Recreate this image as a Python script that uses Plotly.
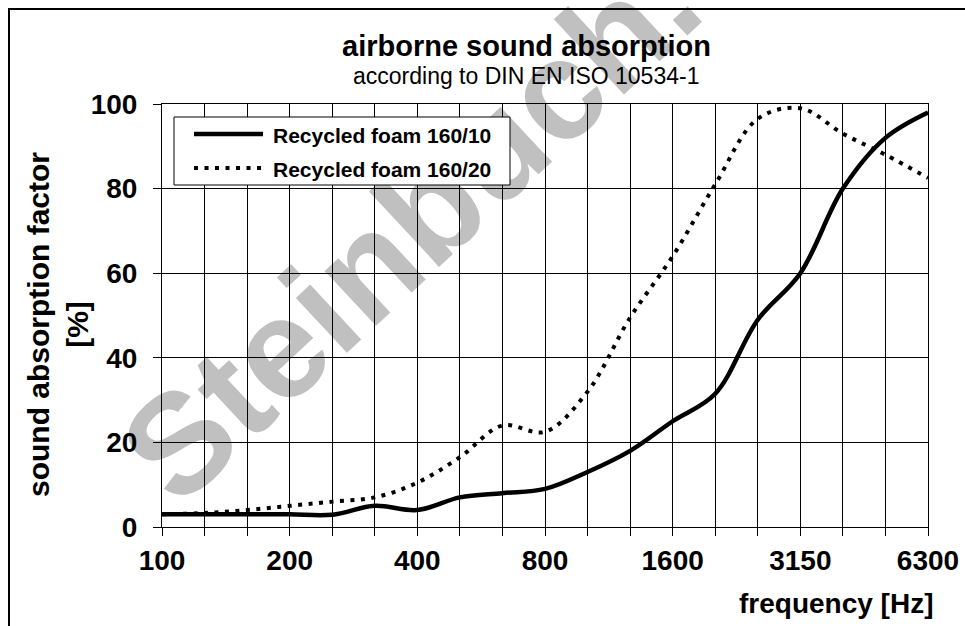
import plotly.graph_objects as go

# ---- data ----
freq_labels = ["100", "125", "160", "200", "250", "315", "400", "500", "630", "800",
               "1000", "1250", "1600", "2000", "2500", "3150", "4000", "5000", "6300"]
foam_160_10 = [3, 3, 3, 3, 2.9, 5, 4, 7, 8, 9, 13, 18, 25, 31.5, 49, 60, 80, 92, 98]
foam_160_20 = [3, 3.3, 4, 5, 6, 7, 10.5, 16.5, 24, 22.5, 32, 49.5, 64, 81, 96.5, 99, 93, 88, 82.5]
labelled_freqs = ["100", "200", "400", "800", "1600", "3150", "6300"]
y_ticks = [0, 20, 40, 60, 80, 100]

series_names = ["Recycled foam 160/10", "Recycled foam 160/20"]

# ---- layout geometry ----
W, H = 965, 626
L, R, T, B = 162, 37, 104, 99
PW, PH = W - L - R, H - T - B
FONT = "Arial, Liberation Sans, sans-serif"
DOT = "4px,6.5px"


def px(x):
    return (x - L) / PW


def py(y):
    return (H - B - y) / PH


fig = go.Figure()
fig.add_trace(go.Scatter(x=freq_labels, y=foam_160_10, mode="lines", name=series_names[0],
                         line=dict(color="black", width=4.5, shape="spline")))
fig.add_trace(go.Scatter(x=freq_labels, y=foam_160_20, mode="lines", name=series_names[1],
                         line=dict(color="black", width=4, shape="spline", dash=DOT)))

fig.update_layout(
    width=W, height=H,
    margin=dict(l=L, r=R, t=T, b=B, autoexpand=False),
    paper_bgcolor="white", plot_bgcolor="white",
    showlegend=False,
    font=dict(family=FONT, color="black"),
)

fig.update_xaxes(
    type="category", categoryorder="array", categoryarray=freq_labels,
    range=[0, len(freq_labels) - 1],
    tickmode="array", tickvals=freq_labels,
    ticktext=[f if f in labelled_freqs else "" for f in freq_labels],
    ticks="outside", ticklen=8, tickcolor="black", tickwidth=1,
    showgrid=True, gridcolor="black", gridwidth=1,
    showline=True, linecolor="black", linewidth=1, mirror=True,
    tickfont=dict(size=28, weight="bold", family=FONT, color="black"),
    ticklabelstandoff=0, automargin=False,
)
fig.update_yaxes(
    range=[0, 100], tickmode="array", tickvals=y_ticks,
    ticks="outside", ticklen=8, tickcolor="black", tickwidth=1,
    showgrid=True, gridcolor="black", gridwidth=1, zeroline=False,
    showline=True, linecolor="black", linewidth=1, mirror=True,
    tickfont=dict(size=28, weight="bold", family=FONT, color="black"),
    ticklabelstandoff=10, automargin=False,
)

WM_X, WM_Y = 401, 217
shapes = [
    # watermark, drawn beneath grid and curves
    dict(type="rect", xref="paper", yref="paper",
         x0=px(WM_X - 5), x1=px(WM_X + 5), y0=py(WM_Y + 5), y1=py(WM_Y - 5),
         line=dict(width=0), fillcolor="rgba(0,0,0,0)", layer="below",
         label=dict(text="Steinbuch.", textangle=-43, textposition="middle center", padding=0,
                    font=dict(family=FONT, size=142, weight="bold", color="#c0c0c0"))),
    # outer frame (continues past right/bottom edges)
    dict(type="rect", xref="paper", yref="paper", x0=px(9), x1=px(1100), y0=py(9), y1=py(800),
         line=dict(color="black", width=2), fillcolor="rgba(0,0,0,0)", layer="above"),
    # legend box
    dict(type="rect", xref="paper", yref="paper", x0=px(174), x1=px(510), y0=py(185), y1=py(117),
         line=dict(color="black", width=1), fillcolor="white", layer="above"),
    dict(type="line", xref="paper", yref="paper", x0=px(194), x1=px(263), y0=py(134), y1=py(134),
         line=dict(color="black", width=4.5), layer="above"),
    dict(type="line", xref="paper", yref="paper", x0=px(194), x1=px(263), y0=py(168), y1=py(168),
         line=dict(color="black", width=4, dash=DOT), layer="above"),
]
fig.update_layout(shapes=shapes)

annotations = [
    dict(text="airborne sound absorption", x=px(526), y=py(46), xref="paper", yref="paper",
         showarrow=False, xanchor="center", yanchor="middle",
         font=dict(family=FONT, size=29, weight="bold", color="black")),
    dict(text="according to DIN EN ISO 10534-1", x=px(526), y=py(75.5), xref="paper", yref="paper",
         showarrow=False, xanchor="center", yanchor="middle",
         font=dict(family=FONT, size=23, color="black")),
    dict(text="sound absorption factor<br>[%]", x=px(58), y=py(324), xref="paper", yref="paper",
         showarrow=False, textangle=-90, xanchor="center", yanchor="middle",
         font=dict(family=FONT, size=30, weight="bold", color="black")),
    dict(text="frequency [Hz]", x=px(935), y=py(603), xref="paper", yref="paper",
         showarrow=False, xanchor="right", yanchor="middle",
         font=dict(family=FONT, size=28, weight="bold", color="black")),
    dict(text=series_names[0], x=px(271), y=py(135), xref="paper", yref="paper",
         showarrow=False, xanchor="left", yanchor="middle",
         font=dict(family=FONT, size=21, weight="bold", color="black")),
    dict(text=series_names[1], x=px(271), y=py(169), xref="paper", yref="paper",
         showarrow=False, xanchor="left", yanchor="middle",
         font=dict(family=FONT, size=21, weight="bold", color="black")),
]
fig.update_layout(annotations=annotations)

fig.write_html("out.html", config={"displayModeBar": False},
               post_script="document.body.style.margin='0px';")
